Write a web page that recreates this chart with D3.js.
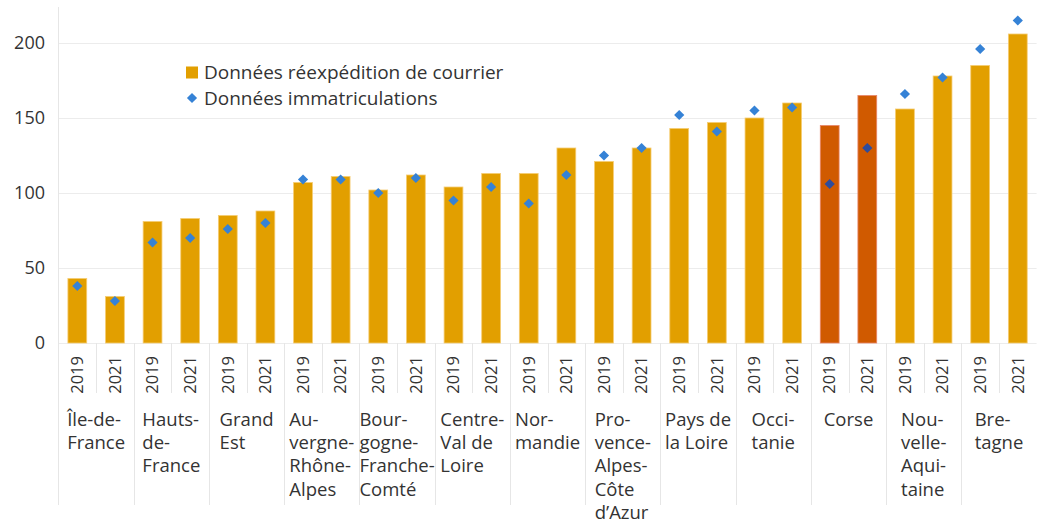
<!DOCTYPE html>
<html>
<head>
<meta charset="utf-8">
<script src="https://cdn.jsdelivr.net/npm/d3@7"></script>
<style>
  body { margin: 0; background: #fff; }
  svg { display: block; font-family: "Open Sans", sans-serif; }
</style>
</head>
<body>
<svg id="chart" width="1040" height="526"></svg>
<script>
// data
let regions = [
  ["Île-de-", "France"],
  ["Hauts-", "de-", "France"],
  ["Grand", "Est"],
  ["Au-", "vergne-", "Rhône-", "Alpes"],
  ["Bour-", "gogne-", "Franche-", "Comté"],
  ["Centre-", "Val de", "Loire"],
  ["Nor-", "mandie"],
  ["Pro-", "vence-", "Alpes-", "Côte", "d’Azur"],
  ["Pays de", "la Loire"],
  ["Occi-", "tanie"],
  ["Corse"],
  ["Nou-", "velle-", "Aqui-", "taine"],
  ["Bre-", "tagne"]
];
let years = ["2019", "2021"];
let courrier2019 = [43, 81, 85, 107, 102, 104, 113, 121, 143, 150, 145, 156, 185];
let courrier2021 = [31, 83, 88, 111, 112, 113, 130, 130, 147, 160, 165, 178, 206];
let immat2019 = [38, 67, 76, 109, 100, 95, 93, 125, 152, 155, 106, 166, 196];
let immat2021 = [28, 70, 80, 109, 110, 104, 112, 130, 141, 157, 130, 177, 215];
let yTicks = [0, 50, 100, 150, 200];
let highlight = "Corse";
let legendLabels = ["Données réexpédition de courrier", "Données immatriculations"];

let svg = d3.select("#chart");
let names = regions.map(d => d.join(""));

let rows = [];
names.forEach((n, i) => {
  rows.push({ region: n, year: "2019", courrier: courrier2019[i], immat: immat2019[i] });
  rows.push({ region: n, year: "2021", courrier: courrier2021[i], immat: immat2021[i] });
});

// scales
let x0 = d3.scaleBand().domain(names).range([58.5, 1036.6]).padding(0);
let x1 = d3.scaleBand().domain(years).range([0, x0.bandwidth()]).padding(0);
let y = d3.scaleLinear().domain([0, 224]).range([343, 7]);

let textColor = "#333";
let lineColor = "#e6e6e6";

// grid
svg.append("g").
selectAll("line").
data(yTicks).
enter().
append("line").
attr("x1", 58.5).
attr("x2", 1036.6).
attr("y1", d => Math.round(y(d)) + 0.5).
attr("y2", d => Math.round(y(d)) + 0.5).
attr("stroke", "#ececec");

svg.append("g").
selectAll("text").
data(yTicks).
enter().
append("text").
attr("x", 45).
attr("y", d => y(d)).
attr("dy", "0.35em").
attr("text-anchor", "end").
attr("font-size", 18).
attr("fill", textColor).
text(d => d);

// left axis line
svg.append("line").
attr("x1", 58.5).attr("x2", 58.5).
attr("y1", 7).attr("y2", 505).
attr("stroke", lineColor);

// separators under the axis
let seps = [];
names.forEach((n, i) => {
  if (i > 0) seps.push({ x: x0(n), long: true });
  seps.push({ x: x0(n) + x1("2021"), long: false });
});
svg.append("g").
selectAll("line").
data(seps).
enter().
append("line").
attr("x1", d => Math.round(d.x) + 0.5).
attr("x2", d => Math.round(d.x) + 0.5).
attr("y1", 343).
attr("y2", d => d.long ? 505 : 393).
attr("stroke", lineColor);

// bars
let barW = x1.bandwidth() * 0.5;
let bx = d => x0(d.region) + x1(d.year) + (x1.bandwidth() - barW) / 2;

svg.append("g").
selectAll("rect").
data(rows).
enter().
append("rect").
attr("x", bx).
attr("y", d => y(d.courrier)).
attr("width", barW).
attr("height", d => y(0) - y(d.courrier)).
attr("fill", d => d.region === highlight ? "#d05a00" : "#e29f00").
attr("stroke", d => d.region === highlight ? "#e8866a" : "#f6cc72").
attr("stroke-width", 0.8);

// diamonds
let diamond = d3.symbol().type(d3.symbolSquare).size(52);
svg.append("g").
selectAll("path").
data(rows).
enter().
append("path").
attr("d", diamond).
attr("transform", d => `translate(${bx(d) + barW / 2},${y(d.immat)}) rotate(45)`).
attr("fill", d => d.region === highlight ? "#2e4c9c" : "#3582d6");

// year labels
svg.append("g").
selectAll("text").
data(rows).
enter().
append("text").
attr("transform", d => `translate(${bx(d) + barW / 2},356) rotate(-90)`).
attr("dy", "0.35em").
attr("text-anchor", "end").
attr("font-size", 16.5).
attr("fill", textColor).
text(d => d.year);

// region labels
let lineH = 23.4;
let regionG = svg.append("g").
selectAll("text").
data(regions).
enter().
append("text").
attr("font-size", 18.5).
attr("fill", textColor);

regionG.selectAll("tspan").
data(d => d).
enter().
append("tspan").
attr("y", (d, i) => 425.5 + i * lineH).
text(d => d);

regionG.each(function (d, i) {
  let maxW = 0;
  d3.select(this).selectAll("tspan").each(function () {
    maxW = Math.max(maxW, this.getComputedTextLength());
  });
  let cx = x0(names[i]) + x0.bandwidth() / 2;
  d3.select(this).selectAll("tspan").attr("x", cx - maxW / 2);
});

// legend
let legend = svg.append("g").attr("transform", "translate(186,0)");
legend.append("rect").
attr("x", 0).attr("y", 66.5).
attr("width", 12).attr("height", 12).
attr("fill", "#e29f00");
legend.append("path").
attr("d", diamond).
attr("transform", "translate(6,98) rotate(45)").
attr("fill", "#3582d6");
legend.selectAll("text").
data(legendLabels).
enter().
append("text").
attr("x", 18).
attr("y", (d, i) => 72.5 + i * 26).
attr("dy", "0.35em").
attr("font-size", 19).
attr("fill", textColor).
text(d => d);
</script>
</body>
</html>
